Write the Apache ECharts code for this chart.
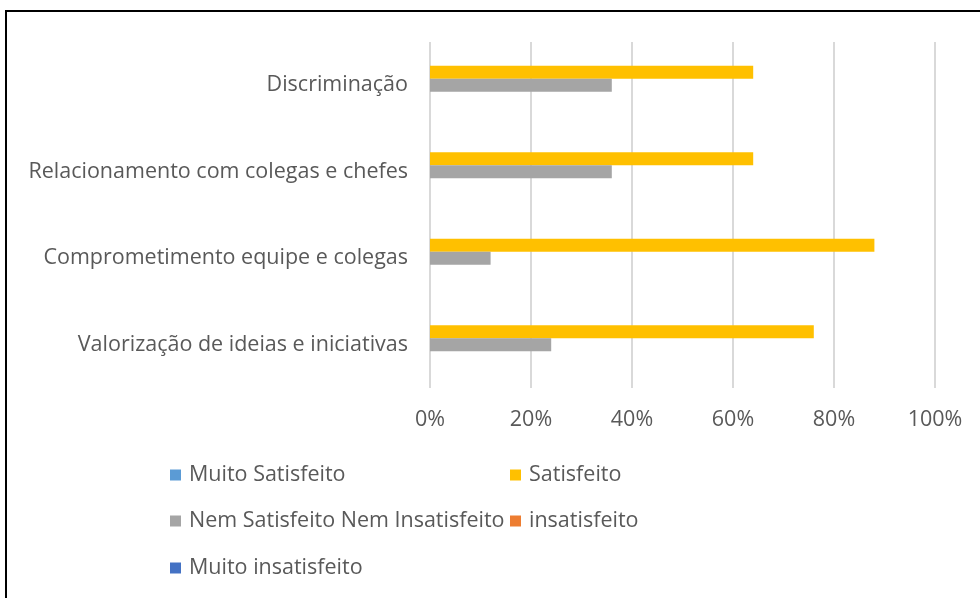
<!DOCTYPE html>
<html><head><meta charset="utf-8">
<script src="https://cdn.jsdelivr.net/npm/echarts@6/dist/echarts.min.js"></script>
<style>html,body{margin:0;padding:0;background:#fff;}#c{width:980px;height:598px;}</style>
</head><body><div id="c"></div>
<script>
const categories = ["Valorização de ideias e iniciativas","Comprometimento equipe e colegas","Relacionamento com colegas e chefes","Discriminação"];
const seriesNames = ["Muito Satisfeito","Satisfeito","Nem Satisfeito Nem Insatisfeito","insatisfeito","Muito insatisfeito"];
const muitoSatisfeito = [0,0,0,0];
const satisfeito = [76,88,64,64];
const nemNem = [24,12,36,36];
const insatisfeito = [0,0,0,0];
const muitoInsatisfeito = [0,0,0,0];
const xTicks = [0,20,40,60,80,100];

const colors = ["#5B9BD5","#FFC000","#A5A5A5","#ED7D31","#4472C4"];
const values = [muitoSatisfeito,satisfeito,nemNem,insatisfeito,muitoInsatisfeito];
const font = "'Open Sans', sans-serif";
const fs = 21.5;
const legendPos = [[170,464],[510,464],[170,510],[510,510],[170,557]];

const chart = echarts.init(document.getElementById('c'));
chart.setOption({
  animation:false,
  textStyle:{fontFamily:font},
  grid:{left:430,top:42,width:505,height:346},
  xAxis:{type:'value',min:xTicks[0],max:xTicks[xTicks.length-1],interval:20,
    axisLine:{show:false},axisTick:{show:false},
    axisLabel:{formatter:'{value}%',color:'#595959',fontSize:fs,margin:21,fontFamily:font},
    splitLine:{lineStyle:{color:'#d9d9d9',width:2}}},
  yAxis:{type:'category',data:categories,
    axisLine:{show:false},axisTick:{show:false},
    axisLabel:{color:'#595959',fontSize:fs,margin:22,fontFamily:font}},
  legend: seriesNames.map((n,i)=>({data:[n],left:legendPos[i][0],top:legendPos[i][1],padding:0,
    icon:'rect',itemWidth:11,itemHeight:11,itemGap:0,selectedMode:false,
    textStyle:{color:'#595959',fontSize:fs,fontFamily:font,padding:[0,0,0,3]}})),
  series: seriesNames.map((n,i)=>({name:n,type:'bar',data:values[i],barWidth:13,barGap:'0%',
    itemStyle:{color:colors[i]}})),
  graphic:[{type:'rect',shape:{x:6,y:11,width:1000,height:700},style:{fill:'none',stroke:'#000',lineWidth:2},silent:true}]
});
</script></body></html>
